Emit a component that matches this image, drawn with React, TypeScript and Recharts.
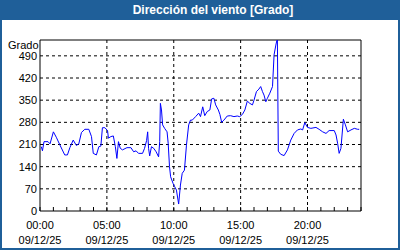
import React from 'react'
import { LineChart, Line, XAxis, YAxis, ReferenceLine } from 'recharts'

// minutes since 00:00 on 09/12/25
const times = [
  6, 11, 18, 36, 45, 60, 73, 89, 111, 123, 134, 149, 163, 174, 186, 201, 219, 231, 239, 253,
  264, 273, 280, 291, 303, 307, 318, 329, 338, 345, 352, 360, 370, 390, 408, 420, 431, 442, 460, 469,
  478, 483, 487, 492, 500, 510, 521, 532, 537, 540, 545, 550, 559, 570, 575, 581, 586, 597, 604, 612,
  622, 630, 638, 648, 657, 667, 675, 683, 698, 712, 720, 730, 739, 750, 762, 770, 780, 788, 800, 807,
  815, 825, 840, 855, 870, 885, 896, 908, 919, 930, 941, 953, 960, 971, 982, 990, 998, 1005, 1013, 1020,
  1031, 1043, 1050, 1058, 1062, 1065, 1069, 1080, 1095, 1110, 1125, 1140, 1155, 1170, 1178, 1188, 1200, 1215, 1238, 1252,
  1268, 1283, 1297, 1320, 1328, 1335, 1342, 1350, 1355, 1361, 1370, 1380, 1395, 1410, 1425, 1432,
]
const grados = [
  203, 190, 219, 219, 212, 250, 233, 209, 177, 177, 200, 224, 207, 212, 248, 258, 258, 235, 182, 177,
  203, 205, 263, 263, 254, 230, 235, 237, 203, 166, 219, 198, 193, 200, 200, 187, 190, 182, 182, 198,
  222, 250, 198, 174, 203, 198, 187, 171, 219, 340, 319, 272, 261, 250, 214, 140, 108, 87, 77, 66,
  22, 82, 119, 129, 208, 272, 287, 287, 298, 309, 298, 329, 301, 314, 319, 354, 356, 335, 319, 305,
  280, 287, 300, 301, 298, 300, 298, 305, 319, 347, 340, 335, 350, 377, 385, 393, 377, 366, 345, 356,
  372, 393, 493, 524, 537, 540, 189, 179, 175, 193, 224, 245, 256, 259, 256, 279, 264, 261, 264, 258,
  250, 245, 254, 254, 240, 214, 182, 198, 240, 290, 272, 250, 256, 261, 258, 258,
]

const leftTicks = [0, 70, 140, 210, 280, 350, 420, 490]
const rightTicks = [0, 45, 90, 135, 180, 225, 270, 315, 360, 405, 450, 495, 540]
const rumbos = ['N', 'NE', 'E', 'SE', 'S', 'SO', 'O', 'NO', 'N', 'NE', 'E', 'SE', 'S']
const hourTicks = Array.from({ length: 25 }, (_, i) => i)
const gridHours = [5, 10, 15, 20]
const fecha = '09/12/25'

const data = times.map((m, i) => ({ h: m / 60, v: grados[i] }))

const FONT = '"Liberation Sans", Arial, sans-serif'
const BLUE = '#1f5f99'

function HourTick({ x, y, payload }: any) {
  const h = payload.value
  const label = h % 5 === 0 && h < 24
  return (
    <g>
      <line x1={x} y1={y} x2={x} y2={y - 4} stroke="#000" />
      {label && (
        <text x={x} y={y} textAnchor="middle" fontSize={11} fontFamily={FONT} fill="#000">
          <tspan x={x} dy={18}>{String(h).padStart(2, '0') + ':00'}</tspan>
          <tspan x={x} dy={15}>{fecha}</tspan>
        </text>
      )}
    </g>
  )
}

export default function App() {
  return (
    <div
      style={{
        position: 'relative',
        width: 400,
        height: 250,
        boxSizing: 'border-box',
        border: `2px solid ${BLUE}`,
        background: '#fff',
        fontFamily: FONT,
      }}
    >
      <style>{'body{margin:0}'}</style>
      <div
        style={{
          height: 18,
          background: BLUE,
          color: '#fff',
          fontWeight: 'bold',
          fontSize: 12,
          lineHeight: '17px',
          textAlign: 'center',
          paddingLeft: 26,
        }}
      >
        Dirección del viento [Grado]
      </div>
      <div style={{ position: 'absolute', left: 6, top: 37, fontSize: 11, lineHeight: '13px', color: '#000' }}>
        Grado
      </div>
      <LineChart width={396} height={228} data={data} margin={{ top: 20, right: 0, bottom: 0, left: 0 }}>
        <XAxis
          dataKey="h"
          type="number"
          domain={[0, 24]}
          ticks={hourTicks}
          interval={0}
          height={37}
          tickSize={0}
          tickMargin={0}
          tickLine={false}
          axisLine={{ stroke: '#000' }}
          tick={<HourTick />}
        />
        <YAxis
          yAxisId="l"
          orientation="left"
          domain={[0, 540]}
          ticks={leftTicks}
          interval={0}
          width={38}
          tickLine={false}
          tickSize={0}
          tickMargin={3}
          axisLine={{ stroke: '#000' }}
          tick={{ fill: '#000', fontSize: 11, fontFamily: FONT }}
        />
        <YAxis
          yAxisId="r"
          orientation="right"
          domain={[0, 540]}
          ticks={rightTicks}
          interval={0}
          width={37}
          tickSize={3}
          tickMargin={1}
          tickLine={{ stroke: '#000' }}
          axisLine={{ stroke: '#000' }}
          tickFormatter={(v: number) => rumbos[rightTicks.indexOf(v)]}
          tick={{ fill: '#000', fontSize: 11, fontFamily: FONT, textAnchor: 'start' }}
        />
        {leftTicks.slice(1).map((t) => (
          <ReferenceLine key={'y' + t} yAxisId="l" y={t} stroke="#000" strokeDasharray="3 3" />
        ))}
        {gridHours.map((h) => (
          <ReferenceLine key={'x' + h} yAxisId="l" x={h} stroke="#000" strokeDasharray="3 3" />
        ))}
        <ReferenceLine yAxisId="l" y={540} stroke="#000" />
        <Line
          yAxisId="l"
          type="linear"
          dataKey="v"
          stroke="#0000ff"
          strokeWidth={1}
          dot={false}
          isAnimationActive={false}
        />
      </LineChart>
    </div>
  )
}
